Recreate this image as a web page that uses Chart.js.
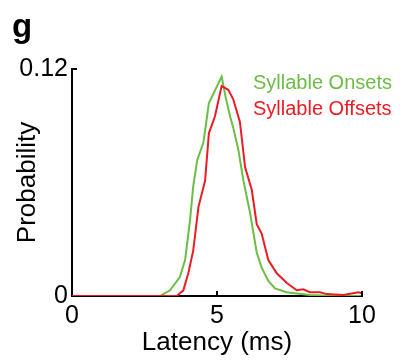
<!DOCTYPE html>
<html lang="en">
<head>
  <meta charset="UTF-8">
  <title>Latency distribution</title>
  <style>
    body { margin: 0; background: #fff; font-family: "Liberation Sans", Arial, sans-serif; }
    .wrap { position: relative; width: 404px; height: 362px; }
    .panel { position: absolute; left: 12px; top: 9px; font-size: 33px; line-height: 33px; font-weight: bold; color: #000; }
    .key { position: absolute; left: 253px; font-size: 20px; line-height: 20px; white-space: nowrap; }
  </style>
  <script src="https://cdn.jsdelivr.net/npm/chart.js"></script>
</head>
<body>
  <div class="wrap">
    <canvas id="latencyChart" width="404" height="362"></canvas>
    <div class="panel">g</div>
    <div class="key" style="top: 72px; color: #6cbd45;">Syllable Onsets</div>
    <div class="key" style="top: 98px; color: #ed1c24;">Syllable Offsets</div>
  </div>

  <script>
    // latency (ms) vs probability
    const onsetLatency = [0, 3.03, 3.38, 3.72, 3.9, 4.07, 4.18, 4.32, 4.53, 4.72, 5.16, 5.3, 5.45, 5.56, 5.74, 5.91, 6.14, 6.37, 6.54, 6.77, 7.0, 7.4, 8.2, 9.0, 10];
    const onsetProb    = [0, 0, 0.003, 0.010, 0.019, 0.040, 0.058, 0.072, 0.081, 0.102, 0.116, 0.105, 0.095, 0.089, 0.077, 0.061, 0.044, 0.023, 0.015, 0.008, 0.004, 0.002, 0.0005, 0, 0];

    const offsetLatency = [0, 3.61, 3.84, 4.01, 4.18, 4.36, 4.59, 4.72, 4.93, 5.16, 5.39, 5.56, 5.79, 5.97, 6.2, 6.37, 6.54, 6.77, 7.06, 7.4, 7.75, 7.98, 8.2, 8.55, 8.78, 9.36, 9.87, 10];
    const offsetProb    = [0, 0, 0.003, 0.012, 0.024, 0.047, 0.061, 0.086, 0.095, 0.111, 0.109, 0.104, 0.092, 0.068, 0.056, 0.038, 0.033, 0.019, 0.012, 0.007, 0.003, 0.0035, 0.002, 0.002, 0.001, 0.0005, 0.002, 0.0015];

    const xTicks = [0, 5, 10];
    const yTicks = [0, 0.12];

    function toPoints(xs, ys) {
      return xs.map((x, i) => ({ x: x, y: ys[i] }));
    }

    // small tick marks pointing into the plot, like the original figure
    const innerTicks = {
      id: 'innerTicks',
      afterDraw(chart) {
        const ctx = chart.ctx;
        const xs = chart.scales.x, ys = chart.scales.y;
        const area = chart.chartArea;
        ctx.save();
        ctx.strokeStyle = '#000';
        ctx.lineWidth = 2;
        ctx.beginPath();
        xTicks.forEach(v => {
          if (v === 0) return;
          const px = xs.getPixelForValue(v);
          ctx.moveTo(px, area.bottom);
          ctx.lineTo(px, area.bottom - 5);
        });
        yTicks.forEach(v => {
          if (v === 0) return;
          const py = ys.getPixelForValue(v);
          ctx.moveTo(area.left, py);
          ctx.lineTo(area.left + 5, py);
        });
        ctx.stroke();
        ctx.restore();
      }
    };

    const font = { family: '"Liberation Sans", Arial, sans-serif' };

    new Chart(document.getElementById('latencyChart'), {
      type: 'line',
      plugins: [innerTicks],
      data: {
        datasets: [
          {
            label: 'Syllable Offsets',
            data: toPoints(offsetLatency, offsetProb),
            borderColor: '#ed1c24',
            borderWidth: 2,
            order: 0
          },
          {
            label: 'Syllable Onsets',
            data: toPoints(onsetLatency, onsetProb),
            borderColor: '#6cbd45',
            borderWidth: 2,
            order: 1
          }
        ]
      },
      options: {
        responsive: false,
        animation: false,
        events: [],
        layout: { padding: { left: 0, top: 69, right: 42, bottom: 0 } },
        elements: { point: { radius: 0 }, line: { tension: 0, fill: false } },
        plugins: { legend: { display: false }, tooltip: { enabled: false } },
        scales: {
          x: {
            type: 'linear',
            min: 0,
            max: 10,
            afterBuildTicks: s => { s.ticks = xTicks.map(v => ({ value: v })); },
            afterFit: s => { s.height = 66; },
            grid: { display: false, drawTicks: false },
            border: { display: true, color: '#000', width: 2 },
            ticks: { color: '#000', padding: 5, maxRotation: 0, font: { ...font, size: 25 } },
            title: {
              display: true,
              text: 'Latency (ms)',
              color: '#000',
              padding: { top: 0, bottom: 4 },
              font: { ...font, size: 26 }
            }
          },
          y: {
            type: 'linear',
            min: 0,
            max: 0.12,
            afterBuildTicks: s => { s.ticks = yTicks.map(v => ({ value: v })); },
            afterFit: s => { s.width = 72; },
            grid: { display: false, drawTicks: false },
            border: { display: true, color: '#000', width: 2 },
            ticks: { color: '#000', padding: 4, callback: v => String(v), font: { ...font, size: 25 } },
            title: {
              display: true,
              text: 'Probability',
              color: '#000',
              padding: { top: 12, bottom: 0 },
              font: { ...font, size: 26 }
            }
          }
        }
      }
    });
  </script>
</body>
</html>
